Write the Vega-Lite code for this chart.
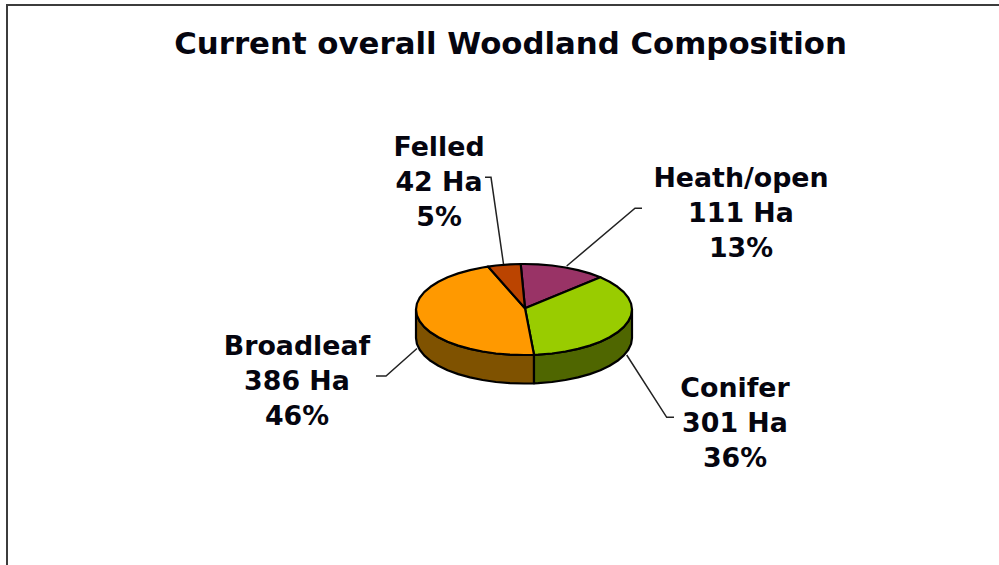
{"$schema":"https://vega.github.io/schema/vega-lite/v6.json","width":999,"height":565,"padding":0,"autosize":"none","background":"white","view":{"stroke":null},
"title":{"text":"Current overall Woodland Composition","anchor":"middle","orient":"top","offset":0,"dy":61,"dx":11,"font":"DejaVu Sans","fontWeight":"bold","fontSize":30.8,"color":"#05050f"},
"datasets":{
"frame":[{"part":"frame","i":0,"x":7,"y":565},{"part":"frame","i":1,"x":7,"y":5},{"part":"frame","i":2,"x":999,"y":5}],
"leaders":[
{"part":"Felled","i":0,"x":485,"y":177.3},{"part":"Felled","i":1,"x":491,"y":177.3},{"part":"Felled","i":2,"x":503.5,"y":264},
{"part":"Heath","i":0,"x":642,"y":208.3},{"part":"Heath","i":1,"x":635,"y":208.3},{"part":"Heath","i":2,"x":566.7,"y":266},
{"part":"Conifer","i":0,"x":626.7,"y":355},{"part":"Conifer","i":1,"x":666.7,"y":417.3},{"part":"Conifer","i":2,"x":674,"y":417.3},
{"part":"Broadleaf","i":0,"x":417,"y":348.5},{"part":"Broadleaf","i":1,"x":386,"y":376},{"part":"Broadleaf","i":2,"x":376,"y":376}],
"labels":[
{"category":"Felled","ha":42,"pct":5,"label":"Felled\n42 Ha\n5%","x":439,"y":156},
{"category":"Heath/open","ha":111,"pct":13,"label":"Heath/open\n111 Ha\n13%","x":741,"y":187},
{"category":"Conifer","ha":301,"pct":36,"label":"Conifer\n301 Ha\n36%","x":735,"y":397},
{"category":"Broadleaf","ha":386,"pct":46,"label":"Broadleaf\n386 Ha\n46%","x":297,"y":355}],
"outline":[
{"part":"Broadleaf side","i":0,"x":416,"y":309.5},{"part":"Broadleaf side","i":1,"x":416.9,"y":315.4},{"part":"Broadleaf side","i":2,"x":419.7,"y":321.3},{"part":"Broadleaf side","i":3,"x":424.2,"y":326.9},{"part":"Broadleaf side","i":4,"x":430.5,"y":332.3},{"part":"Broadleaf side","i":5,"x":438.4,"y":337.2},{"part":"Broadleaf side","i":6,"x":447.6,"y":341.7},{"part":"Broadleaf side","i":7,"x":458.2,"y":345.6},{"part":"Broadleaf side","i":8,"x":470,"y":348.9},{"part":"Broadleaf side","i":9,"x":482.6,"y":351.5},{"part":"Broadleaf side","i":10,"x":496,"y":353.5},{"part":"Broadleaf side","i":11,"x":509.9,"y":354.6},{"part":"Broadleaf side","i":12,"x":524,"y":355},{"part":"Broadleaf side","i":13,"x":534,"y":354.8},{"part":"Broadleaf side","i":14,"x":534,"y":383.3},{"part":"Broadleaf side","i":15,"x":524,"y":383.5},{"part":"Broadleaf side","i":16,"x":509.9,"y":383.1},{"part":"Broadleaf side","i":17,"x":496,"y":382},{"part":"Broadleaf side","i":18,"x":482.6,"y":380},{"part":"Broadleaf side","i":19,"x":470,"y":377.4},{"part":"Broadleaf side","i":20,"x":458.2,"y":374.1},{"part":"Broadleaf side","i":21,"x":447.6,"y":370.2},{"part":"Broadleaf side","i":22,"x":438.4,"y":365.7},{"part":"Broadleaf side","i":23,"x":430.5,"y":360.8},{"part":"Broadleaf side","i":24,"x":424.2,"y":355.4},{"part":"Broadleaf side","i":25,"x":419.7,"y":349.8},{"part":"Broadleaf side","i":26,"x":416.9,"y":343.9},{"part":"Broadleaf side","i":27,"x":416,"y":338},{"part":"Broadleaf side","i":28,"x":416,"y":309.5},
{"part":"Conifer side","i":0,"x":534,"y":354.8},{"part":"Conifer side","i":1,"x":538.1,"y":354.6},{"part":"Conifer side","i":2,"x":552,"y":353.5},{"part":"Conifer side","i":3,"x":565.4,"y":351.5},{"part":"Conifer side","i":4,"x":578,"y":348.9},{"part":"Conifer side","i":5,"x":589.8,"y":345.6},{"part":"Conifer side","i":6,"x":600.4,"y":341.7},{"part":"Conifer side","i":7,"x":609.6,"y":337.2},{"part":"Conifer side","i":8,"x":617.5,"y":332.3},{"part":"Conifer side","i":9,"x":623.8,"y":326.9},{"part":"Conifer side","i":10,"x":628.3,"y":321.3},{"part":"Conifer side","i":11,"x":631.1,"y":315.4},{"part":"Conifer side","i":12,"x":632,"y":309.5},{"part":"Conifer side","i":13,"x":632,"y":338},{"part":"Conifer side","i":14,"x":631.1,"y":343.9},{"part":"Conifer side","i":15,"x":628.3,"y":349.8},{"part":"Conifer side","i":16,"x":623.8,"y":355.4},{"part":"Conifer side","i":17,"x":617.5,"y":360.8},{"part":"Conifer side","i":18,"x":609.6,"y":365.7},{"part":"Conifer side","i":19,"x":600.4,"y":370.2},{"part":"Conifer side","i":20,"x":589.8,"y":374.1},{"part":"Conifer side","i":21,"x":578,"y":377.4},{"part":"Conifer side","i":22,"x":565.4,"y":380},{"part":"Conifer side","i":23,"x":552,"y":382},{"part":"Conifer side","i":24,"x":538.1,"y":383.1},{"part":"Conifer side","i":25,"x":534,"y":383.3},{"part":"Conifer side","i":26,"x":534,"y":354.8},
{"part":"Heath/open","i":0,"x":525,"y":308.3},{"part":"Heath/open","i":1,"x":520.7,"y":264},{"part":"Heath/open","i":2,"x":524,"y":264},{"part":"Heath/open","i":3,"x":538.1,"y":264.4},{"part":"Heath/open","i":4,"x":552,"y":265.5},{"part":"Heath/open","i":5,"x":565.4,"y":267.5},{"part":"Heath/open","i":6,"x":578,"y":270.1},{"part":"Heath/open","i":7,"x":589.8,"y":273.4},{"part":"Heath/open","i":8,"x":600.4,"y":277.3},{"part":"Heath/open","i":9,"x":525,"y":308.3},
{"part":"Conifer","i":0,"x":525,"y":308.3},{"part":"Conifer","i":1,"x":600.4,"y":277.3},{"part":"Conifer","i":2,"x":609.6,"y":281.8},{"part":"Conifer","i":3,"x":617.5,"y":286.8},{"part":"Conifer","i":4,"x":623.8,"y":292.1},{"part":"Conifer","i":5,"x":628.3,"y":297.7},{"part":"Conifer","i":6,"x":631.1,"y":303.6},{"part":"Conifer","i":7,"x":632,"y":309.5},{"part":"Conifer","i":8,"x":631.1,"y":315.4},{"part":"Conifer","i":9,"x":628.3,"y":321.3},{"part":"Conifer","i":10,"x":623.8,"y":326.9},{"part":"Conifer","i":11,"x":617.5,"y":332.3},{"part":"Conifer","i":12,"x":609.6,"y":337.2},{"part":"Conifer","i":13,"x":600.4,"y":341.7},{"part":"Conifer","i":14,"x":589.8,"y":345.6},{"part":"Conifer","i":15,"x":578,"y":348.9},{"part":"Conifer","i":16,"x":565.4,"y":351.5},{"part":"Conifer","i":17,"x":552,"y":353.5},{"part":"Conifer","i":18,"x":538.1,"y":354.6},{"part":"Conifer","i":19,"x":534,"y":354.8},{"part":"Conifer","i":20,"x":525,"y":308.3},
{"part":"Broadleaf","i":0,"x":525,"y":308.3},{"part":"Broadleaf","i":1,"x":488,"y":266.6},{"part":"Broadleaf","i":2,"x":482.6,"y":267.5},{"part":"Broadleaf","i":3,"x":470,"y":270.1},{"part":"Broadleaf","i":4,"x":458.2,"y":273.4},{"part":"Broadleaf","i":5,"x":447.6,"y":277.3},{"part":"Broadleaf","i":6,"x":438.4,"y":281.8},{"part":"Broadleaf","i":7,"x":430.5,"y":286.8},{"part":"Broadleaf","i":8,"x":424.2,"y":292.1},{"part":"Broadleaf","i":9,"x":419.7,"y":297.7},{"part":"Broadleaf","i":10,"x":416.9,"y":303.6},{"part":"Broadleaf","i":11,"x":416,"y":309.5},{"part":"Broadleaf","i":12,"x":416.9,"y":315.4},{"part":"Broadleaf","i":13,"x":419.7,"y":321.3},{"part":"Broadleaf","i":14,"x":424.2,"y":326.9},{"part":"Broadleaf","i":15,"x":430.5,"y":332.3},{"part":"Broadleaf","i":16,"x":438.4,"y":337.2},{"part":"Broadleaf","i":17,"x":447.6,"y":341.7},{"part":"Broadleaf","i":18,"x":458.2,"y":345.6},{"part":"Broadleaf","i":19,"x":470,"y":348.9},{"part":"Broadleaf","i":20,"x":482.6,"y":351.5},{"part":"Broadleaf","i":21,"x":496,"y":353.5},{"part":"Broadleaf","i":22,"x":509.9,"y":354.6},{"part":"Broadleaf","i":23,"x":524,"y":355},{"part":"Broadleaf","i":24,"x":534,"y":354.8},{"part":"Broadleaf","i":25,"x":525,"y":308.3},
{"part":"Felled","i":0,"x":525,"y":308.3},{"part":"Felled","i":1,"x":520.7,"y":264},{"part":"Felled","i":2,"x":509.9,"y":264.4},{"part":"Felled","i":3,"x":496,"y":265.5},{"part":"Felled","i":4,"x":488,"y":266.6},{"part":"Felled","i":5,"x":525,"y":308.3}]
},
"layer":[
{"data":{"name":"frame"},"mark":{"type":"line","stroke":"#3c3c3c","strokeWidth":2},"encoding":{"x":{"field":"x","type":"quantitative","scale":{"domain":[0,999]},"axis":null},"y":{"field":"y","type":"quantitative","scale":{"domain":[565,0]},"axis":null},"order":{"field":"i"}}},
{"data":{"name":"leaders"},"mark":{"type":"line","stroke":"#222222","strokeWidth":1.5},"encoding":{"x":{"field":"x","type":"quantitative","scale":{"domain":[0,999]},"axis":null},"y":{"field":"y","type":"quantitative","scale":{"domain":[565,0]},"axis":null},"detail":{"field":"part"},"order":{"field":"i"}}},
{"data":{"name":"outline"},"mark":{"type":"line","stroke":"#000000","strokeWidth":2.2,"strokeJoin":"round","filled":true},"encoding":{"x":{"field":"x","type":"quantitative","scale":{"domain":[0,999]},"axis":null},"y":{"field":"y","type":"quantitative","scale":{"domain":[565,0]},"axis":null},"fill":{"field":"part","type":"nominal","legend":null,"scale":{"domain":["Broadleaf side","Conifer side","Heath/open","Conifer","Broadleaf","Felled"],"range":["#7f5200","#4f6600","#993366","#99cc00","#ff9900","#bb4400"]}},"detail":{"field":"part"},"order":{"field":"i"}}},
{"data":{"name":"labels"},"mark":{"type":"text","font":"DejaVu Sans","fontWeight":"bold","fontSize":26.8,"lineHeight":35,"lineBreak":"\n","align":"center","baseline":"alphabetic","color":"#05050f"},"encoding":{"x":{"field":"x","type":"quantitative","scale":{"domain":[0,999]},"axis":null},"y":{"field":"y","type":"quantitative","scale":{"domain":[565,0]},"axis":null},"text":{"field":"label"}}}
]}
